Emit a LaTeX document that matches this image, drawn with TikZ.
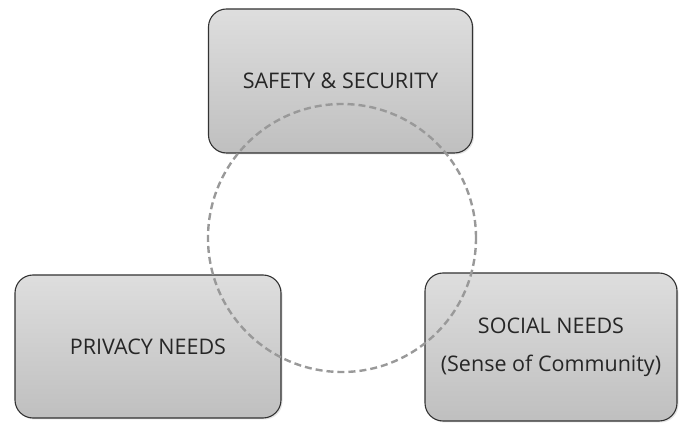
\documentclass[tikz,border=0pt]{standalone}
\usepackage{fontspec}
\setmainfont{Open Sans}
\usetikzlibrary{shadows}
\begin{document}
\begin{tikzpicture}[x=1pt,y=1pt,
  box/.style={draw=black!80, line width=1.1pt, rounded corners=18pt,
    top color=black!13, bottom color=black!25, inner sep=0pt,
    drop shadow={opacity=0.22, shadow xshift=1.5pt, shadow yshift=-1.5pt},
    font=\fontsize{21.5}{25}\selectfont, text=black!85, align=center},
  ring/.style={draw=black!40, line width=2.4pt, dash pattern=on 7pt off 4pt}]
\useasboundingbox (0,0) rectangle (681,423);
\node[box, minimum width=264pt, minimum height=144pt] (safety) at (340.5,342) {SAFETY \& SECURITY};
\node[box, minimum width=266pt, minimum height=143pt] (privacy) at (148,76.5) {PRIVACY NEEDS};
\node[box, minimum width=252pt, minimum height=148pt] (social) at (551,76) {SOCIAL NEEDS\\[13pt](Sense of Community)};
\coordinate (c) at (342,185);
\draw[ring] (c) circle[radius=134];
\end{tikzpicture}
\end{document}
